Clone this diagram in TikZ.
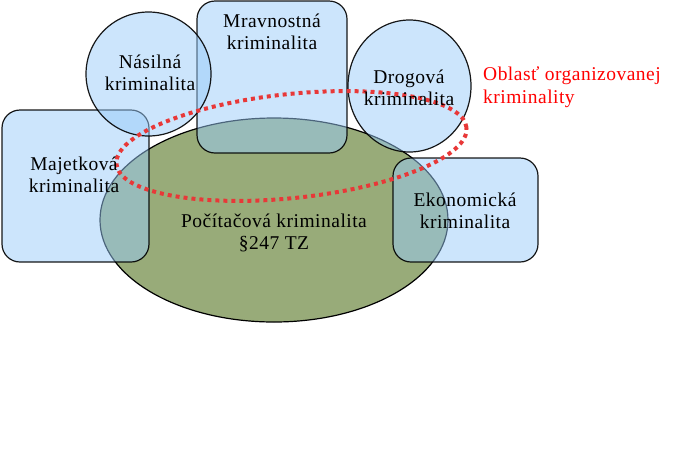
\documentclass[tikz,border=0pt]{standalone}
\usepackage{fontspec}
\setmainfont{Liberation Serif}
\newfontfamily\lblfont{Liberation Serif}[LetterSpace=2.5]
\usetikzlibrary{shapes.geometric}
\definecolor{boxblue}{RGB}{153,203,249}
\definecolor{ovalgreen}{RGB}{152,171,121}
\definecolor{orgred}{RGB}{232,56,56}
\tikzset{
  x=1pt, y=-1pt,
  area/.style={draw=black, line width=1.2pt, fill=boxblue, fill opacity=0.5, draw opacity=0.9, inner sep=0pt},
  roundbox/.style={area, rectangle, rounded corners=18pt},
  roundoval/.style={area, ellipse},
  maintext/.style={font=\lblfont\fontsize{19.5}{22.5}\selectfont, align=center, text=black, inner sep=0pt},
  redtext/.style={font=\lblfont\fontsize{19.5}{23.5}\selectfont, align=left, text=red, inner sep=0pt, anchor=west},
  orgring/.style={draw=orgred, line width=4pt, dash pattern=on 4pt off 4pt}
}
\begin{document}
\begin{tikzpicture}
\useasboundingbox (0,0) rectangle (676,456);
% main ellipse
\node[ellipse, draw=black, line width=1.2pt, fill=ovalgreen, inner sep=0pt, minimum width=348pt, minimum height=204pt] (pc) at (274,220) {};
% boxes
\node[roundbox, minimum width=147pt, minimum height=152pt] (maj) at (75.5,186) {};
\node[roundbox, minimum width=150pt, minimum height=152pt] (mrav) at (272,77) {};
\node[roundbox, minimum width=145pt, minimum height=104pt] (eko) at (465.5,210) {};
% circles
\node[roundoval, minimum width=125pt, minimum height=124pt] (nas) at (148.5,74) {};
\node[roundoval, minimum width=123pt, minimum height=132pt] (drog) at (409.5,86) {};
% organised crime ring
\node[ellipse, orgring, rotate=6, minimum width=352pt, minimum height=104pt, inner sep=0pt] (org) at (291.5,146) {};
% texts
\node[maintext] (tnas) at (150,73) {Násilná\\kriminalita};
\node[maintext] (tmrav) at (272,32) {Mravnostná\\kriminalita};
\node[maintext] (tmaj) at (74,175) {Majetková\\kriminalita};
\node[maintext] (tpc) at (274,233) {Počítačová kriminalita\\§247 TZ};
\node[maintext] (tdrog) at (409,88) {Drogová\\kriminalita};
\node[maintext] (teko) at (465,211) {Ekonomická\\kriminalita};
\node[redtext] (torg) at (483,87) {Oblasť organizovanej\\kriminality};
\end{tikzpicture}
\end{document}
